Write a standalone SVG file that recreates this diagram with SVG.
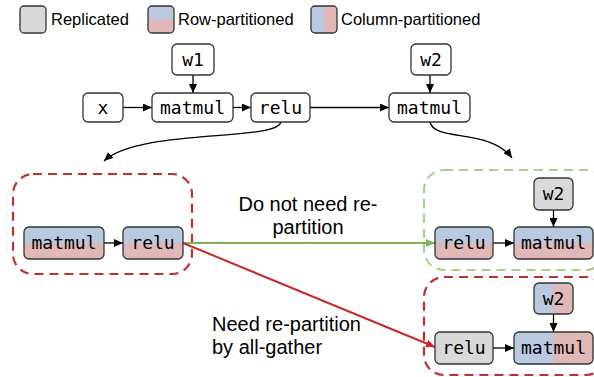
<svg xmlns="http://www.w3.org/2000/svg" width="594" height="377" viewBox="0 0 594 377">
  <style>
    .box { stroke: #333; stroke-width: 1.3; }
    .rep { fill: #d9d9d9; }
    .plain { fill: #fff; }
    .rowp { fill: url(#rowGrad); }
    .colp { fill: url(#colGrad); }
    .code { font-family: "DejaVu Sans Mono", monospace; font-size: 18px; fill: #000; text-anchor: middle; }
    .lbl { font-family: "Liberation Sans", Arial, sans-serif; font-size: 16.5px; fill: #000; }
    .note { font-family: "Liberation Sans", Arial, sans-serif; font-size: 20px; fill: #000; }
    .edge { fill: none; stroke: #000; stroke-width: 1.3; }
    .region { fill: none; stroke-width: 2.2; stroke-dasharray: 9 6; }
  </style>
  <defs>
    <linearGradient id="rowGrad" x1="0" y1="0" x2="0" y2="1">
      <stop offset="0.5" stop-color="#b9cae0"/>
      <stop offset="0.5" stop-color="#e0b8b7"/>
    </linearGradient>
    <linearGradient id="colGrad" x1="0" y1="0" x2="1" y2="0">
      <stop offset="0.5" stop-color="#b9cae0"/>
      <stop offset="0.5" stop-color="#e0b8b7"/>
    </linearGradient>
    <marker id="arrow" markerUnits="userSpaceOnUse" markerWidth="9" markerHeight="8" refX="9" refY="4" orient="auto">
      <path d="M0,0 L9,4 L0,8 z" fill="#000"/>
    </marker>
    <marker id="arrowGreen" markerUnits="userSpaceOnUse" markerWidth="9" markerHeight="8" refX="9" refY="4" orient="auto">
      <path d="M0,0 L9,4 L0,8 z" fill="#7cb35b"/>
    </marker>
    <marker id="arrowRed" markerUnits="userSpaceOnUse" markerWidth="9" markerHeight="8" refX="9" refY="4" orient="auto">
      <path d="M0,0 L9,4 L0,8 z" fill="#c8282a"/>
    </marker>
  </defs>

  <rect width="594" height="377" fill="#fff"/>

  <!-- legend -->
  <g id="legend">
    <rect class="box rep" x="20" y="6" width="26" height="27" rx="4"/>
    <text class="lbl" x="51" y="25">Replicated</text>
    <rect class="box rowp" x="148" y="6" width="26" height="27" rx="4"/>
    <text class="lbl" x="178" y="25">Row-partitioned</text>
    <rect class="box colp" x="311" y="6" width="26" height="27" rx="4"/>
    <text class="lbl" x="341" y="25">Column-partitioned</text>
  </g>

  <!-- dashed regions -->
  <g id="regions">
    <rect class="region" x="13" y="174" width="179" height="100" rx="20" stroke="#c0302b"/>
    <rect class="region" x="424" y="170" width="182" height="100" rx="20" stroke="#a8d08d"/>
    <rect class="region" x="424" y="277" width="182" height="98" rx="20" stroke="#c0302b"/>
  </g>

  <!-- connectors -->
  <g id="connectors">
    <path class="edge" d="M123 107.5 H152" marker-end="url(#arrow)"/>
    <path class="edge" d="M233 107.5 H251" marker-end="url(#arrow)"/>
    <path class="edge" d="M310 107.5 H389" stroke-width="2" marker-end="url(#arrow)"/>
    <path class="edge" d="M193 75 V93" marker-end="url(#arrow)"/>
    <path class="edge" d="M430 75 V93" marker-end="url(#arrow)"/>
    <path class="edge" d="M281 122 C 276 142, 140 128, 104 161" marker-end="url(#arrow)"/>
    <path class="edge" d="M430 122 C 434 142, 490 128, 512 158" marker-end="url(#arrow)"/>
    <path class="edge" d="M104 243 H123" marker-end="url(#arrow)"/>
    <path d="M183 243 H435" fill="none" stroke="#7cb35b" stroke-width="2" marker-end="url(#arrowGreen)"/>
    <path d="M183 243 L435 347" fill="none" stroke="#c8282a" stroke-width="2" marker-end="url(#arrowRed)"/>
    <path class="edge" d="M493 243 H514" marker-end="url(#arrow)"/>
    <path class="edge" d="M553.5 210 V227" marker-end="url(#arrow)"/>
    <path class="edge" d="M493 348 H514" marker-end="url(#arrow)"/>
    <path class="edge" d="M553.5 314 V332" marker-end="url(#arrow)"/>
  </g>

  <!-- edge notes -->
  <text class="note" x="308" y="211" text-anchor="middle">Do not need re-</text>
  <text class="note" x="308" y="234" text-anchor="middle">partition</text>
  <text class="note" x="212" y="331">Need re-partition</text>
  <text class="note" x="212" y="354">by all-gather</text>

  <!-- top graph -->
  <g id="x">
    <rect class="box plain" x="83" y="93" width="40" height="29" rx="5"/>
    <text class="code" x="103" y="113.5">x</text>
  </g>
  <g id="w1">
    <rect class="box plain" x="172" y="44" width="42" height="31" rx="5"/>
    <text class="code" x="193" y="65.5">w1</text>
  </g>
  <g id="matmul1">
    <rect class="box plain" x="152" y="93" width="81" height="29" rx="5"/>
    <text class="code" x="192.5" y="113.5">matmul</text>
  </g>
  <g id="relu1">
    <rect class="box plain" x="251" y="93" width="59" height="29" rx="5"/>
    <text class="code" x="280.5" y="113.5">relu</text>
  </g>
  <g id="w2">
    <rect class="box plain" x="411" y="44" width="40" height="31" rx="5"/>
    <text class="code" x="431" y="65.5">w2</text>
  </g>
  <g id="matmul2">
    <rect class="box plain" x="389" y="93" width="81" height="29" rx="5"/>
    <text class="code" x="429.5" y="113.5">matmul</text>
  </g>

  <!-- left partitioned pair -->
  <g id="left-matmul">
    <rect class="box rowp" x="24" y="227" width="80" height="32" rx="5"/>
    <text class="code" x="64" y="249">matmul</text>
  </g>
  <g id="left-relu">
    <rect class="box rowp" x="123" y="227" width="60" height="32" rx="5"/>
    <text class="code" x="153" y="249">relu</text>
  </g>

  <!-- no re-partition case -->
  <g id="ok-relu">
    <rect class="box rowp" x="435" y="227" width="58" height="32" rx="5"/>
    <text class="code" x="464" y="249">relu</text>
  </g>
  <g id="ok-w2">
    <rect class="box rep" x="534" y="178" width="39" height="32" rx="5"/>
    <text class="code" x="553.5" y="200">w2</text>
  </g>
  <g id="ok-matmul">
    <rect class="box rowp" x="514" y="227" width="79" height="32" rx="5"/>
    <text class="code" x="553.5" y="249">matmul</text>
  </g>

  <!-- all-gather case -->
  <g id="ag-relu">
    <rect class="box rep" x="435" y="332" width="58" height="32" rx="5"/>
    <text class="code" x="464" y="354">relu</text>
  </g>
  <g id="ag-w2">
    <rect class="box colp" x="534" y="283" width="39" height="31" rx="5"/>
    <text class="code" x="553.5" y="304.5">w2</text>
  </g>
  <g id="ag-matmul">
    <rect class="box colp" x="514" y="332" width="79" height="32" rx="5"/>
    <text class="code" x="553.5" y="354">matmul</text>
  </g>
</svg>
